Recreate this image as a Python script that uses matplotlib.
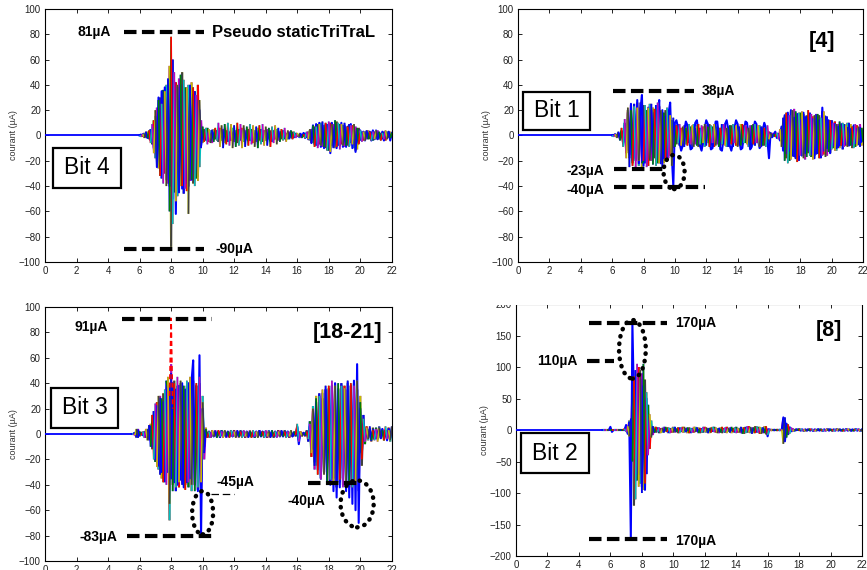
import numpy as np
import matplotlib
matplotlib.use('Agg')
import matplotlib.pyplot as plt
from matplotlib.collections import LineCollection
from matplotlib.patches import Ellipse, Rectangle

plt.rcParams['font.family'] = ['Liberation Sans', 'DejaVu Sans']

# MATLAB (old) colour order used for the overlaid traces
matlab_colors = ['#0000ff', '#008000', '#ff0000', '#00bfbf', '#bf00bf', '#bfbf00', '#404040']

# ---------------- data (current in uA, sampled every 0.1 unit from t_start to 22) ----------------
# Bit 4 - Pseudo static TriTraL
p1_start = 6.0
p1_a = [0, 1, -1, 2, -2, 3, -3, 5, -7, 12,
        -18, 22, -26, 30, -34, 36, -30, 40, -38, 55,
        -88, 60, -45, 42, -48, 45, -40, 50, -46, 38,
        -44, 40, -36, 42, -38, 35, -34, 40, -25, 12,
        -6, 5, -4, 6, -5, 4, -6, 5, -3, 4,
        -5, 6, -4, 5, -6, 4, -5, 3, -4, 6,
        -5, 4, -6, 5, -4, 6, -5, 4, -3, 5,
        -4, 5, -6, 4, -5, 6, -4, 5, -5, 4,
        -4, 5, -3, 4, -5, 4, -3, 5, -4, 3,
        -3, 4, -3, 2, -3, 3, -2, 3, -2, 2,
        -1, 1, -2, 1, -1, 2, -2, 3, -4, 5,
        -6, 7, -8, 9, -7, 10, -9, 8, -10, 9,
        -12, 10, -8, 9, -10, 11, -8, 9, -7, 8,
        -9, 7, -8, 9, -6, 8, -10, 7, -11, 6,
        -4, 3, -4, 3, -3, 4, -3, 3, -4, 3,
        -3, 4, -3, 2, -3, 3, -4, 3, -2, 3, -2]
p1_b = [0, -1, 1, -2, 3, -2, 4, -6, 9, -14,
        20, -24, 28, -32, 25, -38, 35, -40, 45, -60,
        78, -70, 50, -52, 40, -44, 48, -40, 44, -42,
        38, -62, 40, -35, 38, -40, 32, -36, 28, -10,
        7, -5, 6, -7, 5, -6, 4, -5, 6, -4,
        10, -9, 8, -10, 9, -7, 10, -8, 9, -10,
        8, -9, 10, -8, 9, -10, 8, -9, 7, -8,
        9, -7, 8, -9, 7, -10, 8, -7, 9, -8,
        7, -8, 6, -9, 7, -6, 8, -7, 6, -5,
        5, -4, 6, -5, 4, -3, 4, -3, 3, -2,
        2, -1, 2, -2, 1, -2, 3, -3, 5, -6,
        8, -9, 7, -10, 9, -8, 11, -9, 10, -12,
        11, -13, 9, -10, 12, -9, 10, -11, 9, -8,
        10, -8, 7, -9, 8, -7, 9, -12, 6, -7,
        4, -5, 3, -4, 4, -3, 3, -4, 3, -3,
        4, -3, 3, -4, 2, -3, 4, -3, 3, -2, 2]
p1_c = [0, 0, 1, -1, 1, -2, 2, -4, 6, -10,
        15, -25, 30, -28, 35, -30, 38, -35, 30, -40,
        45, -50, 42, -62, 38, -45, 40, -42, 35, -38,
        36, -40, 30, -35, 32, -30, 28, -32, 20, -8,
        4, -3, 4, -4, 3, -5, 4, -3, 4, -3,
        3, -4, 4, -3, 5, -4, 3, -4, 4, -3,
        4, -3, 3, -4, 4, -3, 5, -4, 3, -4,
        3, -4, 4, -3, 3, -4, 4, -3, 3, -4,
        4, -3, 3, -4, 3, -3, 4, -3, 3, -2,
        3, -2, 2, -3, 2, -2, 3, -2, 2, -1,
        1, -1, 1, -1, 2, -2, 2, -3, 4, -6,
        8, -7, 9, -8, 10, -9, 8, -10, 9, -11,
        8, -14, 10, -9, 8, -10, 9, -8, 10, -9,
        8, -9, 7, -8, 9, -10, 6, -13, 5, -6,
        4, -3, 3, -4, 3, -2, 3, -4, 4, -3,
        4, -3, 2, -3, 3, -4, 3, -2, 3, -4, 2]

# Bit 1 - [4]
p2_start = 6.0
p2_a = [0, 0, 1, -1, 2, -3, 4, -6, 10, -14,
        20, -18, 24, -22, 25, -20, 26, -24, 22, -25,
        24, -22, 20, -24, 25, -20, 22, -18, 24, -22,
        23, -20, 18, -22, 20, -18, 15, -16, 12, -10,
        8, -7, 9, -8, 6, -9, 8, -7, 9, -6,
        7, -8, 9, -7, 8, -9, 6, -8, 7, -9,
        8, -6, 9, -8, 7, -9, 8, -7, 6, -8,
        9, -7, 8, -9, 7, -6, 8, -9, 7, -8,
        6, -8, 9, -7, 8, -6, 7, -9, 8, -7,
        9, -8, 7, -6, 8, -9, 7, -8, 6, -7,
        3, -2, 2, -1, 1, -1, 2, -3, 6, -10,
        15, -18, 17, -20, 19, -16, 21, -18, 15, -20,
        18, -15, 17, -19, 16, -14, 18, -17, 15, -16,
        17, -14, 16, -18, 19, -15, 14, -16, 12, -14,
        12, -10, 11, -12, 9, -10, 8, -11, 9, -8,
        10, -8, 9, -10, 7, -9, 8, -7, 9, -8, 6]
p2_b = [0, -1, 1, -2, 3, -4, 6, -9, 13, -18,
        22, -25, 20, -24, 23, -26, 22, -20, 26, -22,
        -20, 24, -25, 22, -20, 25, -23, 21, -24, 26,
        -22, 20, -25, 18, -20, 22, -18, 16, -24, 14,
        -9, 8, -6, 9, -8, 7, -9, 6, -8, 9,
        -7, 8, -9, 6, -8, 9, -7, 8, -6, 9,
        -8, 7, -9, 8, -6, 9, -8, 7, -9, 6,
        -7, 9, -8, 6, -9, 8, -7, 9, -6, 8,
        -9, 7, -8, 9, -6, 8, -7, 6, -9, 8,
        -7, 9, -6, 8, -9, 7, -8, 6, -9, 8,
        -3, 2, -2, 1, -1, 2, -3, 5, -9, 14,
        -20, 18, -22, 16, -19, 20, -17, 19, -21, 18,
        -16, 19, -18, 15, -17, 20, -16, 17, -19, 16,
        -15, 17, -18, 14, -16, 19, -17, 15, -13, 12,
        -11, 10, -12, 9, -10, 11, -8, 10, -9, 8,
        -9, 10, -8, 7, -10, 9, -8, 7, -9, 6, -5]
p2_c = [0, 0, 1, -1, 2, -2, 3, -5, 8, -12,
        18, -15, 25, -20, 22, -18, 28, -22, 20, 32,
        -24, 15, -20, 22, -18, 20, -15, 18, -20, 12,
        28, -22, 20, -18, 15, -20, 18, 26, -15, -40,
        10, 12, 6, -6, -12, -8, 4, 11, 8, -2,
        -11, -10, 0, 10, 12, 4, -8, -12, -5, 6,
        12, 9, -3, -11, -10, 1, 11, 11, 0, -11,
        -12, -3, 9, 12, 5, -8, -12, -6, 6, 12,
        9, -3, -11, -10, 2, 11, 10, -1, -11, -9,
        3, 11, 9, -3, -10, -8, 4, 10, 6, -4,
        -18, 2, -1, 1, 3, -2, 1, -4, 7, -12,
        16, -14, 18, -12, 20, -16, 14, -18, 17, -15,
        12, -16, 18, -14, 15, -12, 17, -15, 13, -18,
        16, -14, 12, -17, 22, -12, 15, -10, 12, -14,
        10, -8, 9, -10, 7, -8, 9, -6, 8, -7,
        6, -8, 5, -7, 8, -6, 5, -7, 6, -5, 4]

# Bit 3 - [18-21]
p3_start = 5.5
p3_a = [0, 0, 1, -3, 4,
        -2, 1, -1, 2, -3, 4, -5, 8, -12, 18,
        -22, 25, -28, 30, -35, 32, -38, 42, 35, -68,
        55, -40, 42, -45, 38, -42, 40, -38, 35, -40,
        38, -42, 40, -45, 42, -40, 38, -44, 40, -48,
        30, -20, 5, -3, 2, -3, 3, -2, 3, -2,
        2, -3, 3, -2, 2, -3, 2, -2, 3, -2,
        3, -2, 2, -3, 3, -2, 2, -3, 2, -2,
        3, -2, 2, -3, 2, -2, 3, -2, 2, -3,
        2, -3, 3, -2, 2, -3, 2, -2, 3, -2,
        2, -2, 3, -2, 2, -3, 2, -2, 1, -2,
        6, -5, 2, -1, 1, -2, 3, -6, 10, -18,
        22, -28, 30, -25, 32, -35, 28, -30, 35, -38,
        36, -40, 38, -35, 40, -42, 36, -38, 40, -35,
        38, -40, 35, -42, 38, -36, 40, -38, 35, -45,
        30, -25, 15, -8, 6, -5, 4, -6, 5, -4,
        5, -4, 6, -3, 4, -5, 3, -4, 5, -6, 4]
p3_b = [0, 0, -1, 4, -3,
        2, -1, 2, -3, 4, -5, 7, -10, 15, -20,
        24, -26, 30, -32, 28, -38, 35, -40, 45, -55,
        48, -45, 40, -42, 45, -38, 42, -40, 38, -44,
        42, -38, 45, -40, 38, -45, 40, -42, 45, -38,
        25, -15, 4, -3, 2, -3, 3, -2, 2, -3,
        3, -2, 2, -3, 3, -2, 2, -3, 3, -2,
        2, -3, 3, -2, 2, -3, 3, -2, 2, -3,
        2, -3, 3, -2, 2, -3, 3, -2, 2, -3,
        3, -2, 2, -3, 3, -2, 2, -3, 2, -2,
        3, -2, 2, -3, 2, -2, 3, -2, 2, -1,
        8, -6, 2, -2, 1, -1, 2, -4, 8, -15,
        20, -25, 28, -32, 30, -36, 35, -32, 38, -40,
        38, -36, 42, -40, 38, -42, 40, -36, 38, -42,
        36, -40, 42, -38, 40, -42, 38, -40, 42, -38,
        25, -20, 12, -6, 5, -4, 6, -5, 3, -5,
        4, -6, 5, -4, 3, -5, 6, -4, 3, -5, 6]
p3_c = [0, 0, 1, -2, 3,
        -1, 1, -1, 1, -2, 3, -4, 6, -10, 15,
        -20, 22, -25, 28, -30, 25, -32, 35, -30, 38,
        -35, 40, -38, 35, -40, 38, -36, 40, -42, 35,
        -38, 40, -35, 42, 58, -40, 38, -45, 62, -80,
        20, -10, 3, -2, 2, -2, 2, -2, 2, -2,
        2, -2, 2, -2, 2, -2, 2, -2, 2, -2,
        2, -2, 2, -2, 2, -2, 2, -2, 2, -2,
        2, -2, 2, -2, 2, -2, 2, -2, 2, -2,
        2, -2, 2, -2, 2, -2, 2, -2, 2, -2,
        2, -2, 2, -2, 2, -2, 2, -2, 1, -1,
        5, -8, 1, -1, 1, -1, 2, -3, 6, -12,
        18, -22, 25, -28, 30, -35, 32, -30, 35, -38,
        35, -40, 38, -45, 40, -50, 35, -42, 38, -40,
        35, -45, 40, -50, 38, -55, 42, -60, 55, -70,
        20, -15, 8, -5, 4, -3, 4, -5, 3, -4,
        3, -4, 5, -3, 4, -3, 3, -5, 4, -3, 5]
p3_spike_t = [7.9, 8.0, 8.1]
p3_spike_y = [30, 91, 20]

# Bit 2 - [8]
p4_start = 5.5
p4_a = [0, 0, 0, 0, 0,
        1, -1, 0, 0, 0, 0, 0, 0, 0, 0,
        5, -4, 15, -20, 60, -120, 95, -80, 100, -85,
        90, -95, 80, -70, 40, -30, 15, -8, 5, -4,
        4, -5, 3, -4, 5, -3, 4, -5, 3, -4,
        5, -4, 3, -5, 4, -3, 5, -4, 3, -5,
        4, -5, 3, -4, 5, -3, 4, -5, 3, -4,
        5, -4, 3, -5, 4, -3, 5, -4, 3, -5,
        4, -5, 3, -4, 5, -3, 4, -5, 3, -4,
        5, -4, 3, -5, 4, -6, 5, -4, 6, -5,
        4, -5, 6, -4, 5, -6, 4, -5, 6, -7,
        2, -1, 1, -1, 1, -1, 1, -1, 1, -1,
        18, -15, 10, -8, 5, -3, 2, -2, 1, -1,
        2, -1, 1, -2, 1, -1, 2, -1, 1, -2,
        1, -1, 2, -1, 1, -2, 1, -1, 2, -1,
        1, -2, 1, -1, 2, -1, 1, -2, 1, -1,
        2, -1, 1, -2, 1, -1, 2, -1, 1, -2, 1]
p4_b = [0, 0, 0, 0, 0,
        0, 0, 0, 0, 0, 0, 0, 0, 0, 2,
        -3, 6, -10, 18, -50, 85, -110, 105, -90, 95,
        -100, 105, -85, 60, -40, 25, -12, 6, -4, 5,
        -3, 4, -5, 3, -4, 5, -3, 4, -5, 3,
        -4, 5, -3, 4, -5, 3, -4, 5, -3, 4,
        -5, 3, -4, 5, -3, 4, -5, 3, -4, 5,
        -3, 4, -5, 3, -4, 5, -3, 4, -5, 3,
        -4, 5, -3, 4, -5, 3, -4, 5, -3, 4,
        -5, 3, -4, 5, -6, 4, -5, 6, -4, 5,
        -6, 4, -5, 6, -4, 5, -6, 4, -5, 6,
        -8, 1, -1, 1, -1, 1, -1, 1, -1, 1,
        -22, 20, -12, 9, -6, 4, -2, 1, -1, 2,
        -1, 2, -1, 1, -2, 1, -1, 2, -1, 1,
        -2, 1, -1, 2, -1, 1, -2, 1, -1, 2,
        -1, 1, -2, 1, -1, 2, -1, 1, -2, 1,
        -1, 2, -1, 1, -2, 1, -1, 2, -1, 1, -2]
p4_c = [0, 0, 0, 0, 0,
        5, -3, 0, 0, 0, 0, 0, 0, 0, 0,
        8, -6, 12, -170, 170, 40, -80, 90, -70, 80,
        -90, 70, -95, 50, -30, 15, -8, 4, -3, 2,
        -2, 2, -2, 2, -2, 2, -2, 2, -2, 2,
        -2, 2, -2, 2, -2, 2, -2, 2, -2, 2,
        -2, 2, -2, 2, -2, 2, -2, 2, -2, 2,
        -2, 2, -2, 2, -2, 2, -2, 2, -2, 2,
        -2, 2, -2, 2, -2, 2, -2, 2, -2, 2,
        -2, 2, -2, 2, -2, 2, -2, 2, -2, 2,
        -2, 2, -2, 2, -2, 2, -2, 2, -3, 3,
        -10, 1, 0, 0, 0, 0, 0, 0, 0, 0,
        20, -18, 10, -6, 4, -2, 1, -1, 1, 0,
        1, -1, 1, -1, 1, -1, 1, -1, 1, -1,
        1, -1, 1, -1, 1, -1, 1, -1, 1, -1,
        1, -1, 1, -1, 1, -1, 1, -1, 1, -1,
        1, -1, 1, -1, 1, -1, 1, -1, 1, -1, 1]

# dashed marker levels: (x_start, x_end, level)
p1_levels = [(5.0, 10.1, 82), (5.0, 10.1, -90)]
p2_levels = [(6.06, 11.2, 35), (6.1, 9.3, -26.5), (6.1, 11.9, -40.7)]
p3_levels = [(4.9, 10.6, 90.5), (5.2, 10.6, -80), (16.7, 20.0, -38.6)]
p4_levels = [(4.64, 9.6, 170), (4.64, 9.6, -173), (4.5, 6.2, 109)]

# labels: (text, x, y, ha)
p1_labels = [('81µA', 4.2, 82, 'right'), ('Pseudo staticTriTraL', 10.6, 81, 'left'),
             ('-90µA', 10.8, -90, 'left')]
p2_labels = [('38µA', 11.7, 35, 'left'), ('-23µA', 5.5, -28, 'right'),
             ('-40µA', 5.5, -43, 'right')]
p3_labels = [('91µA', 4.0, 84, 'right'), ('-83µA', 4.6, -81, 'right'),
             ('-45µA', 10.9, -38, 'left'), ('-40µA', 15.4, -53, 'left')]
p4_labels = [('170µA', 10.1, 170, 'left'), ('170µA', 10.1, -176, 'left'),
             ('110µA', 3.9, 109, 'right')]

# dotted ellipses: (x, y, width, height)
p2_rings = [(9.95, -28.9, 1.34, 27)]
p3_rings = [(10.0, -62, 1.33, 34), (19.8, -55, 2.1, 37)]
p4_rings = [(7.4, 128, 1.7, 93)]


def multicolor(ax, t, y, offset, lw=1.5, z=2):
    pts = np.column_stack([t, y])
    segs = np.stack([pts[:-1], pts[1:]], axis=1)
    cols = [matlab_colors[(i + offset) % len(matlab_colors)] for i in range(len(segs))]
    ax.add_collection(LineCollection(segs, colors=cols, linewidths=lw, zorder=z))


def panel(rect, start, traces, ylim, ystep, levels, labels, rings, bit, bit_box, ref=None):
    ax = fig.add_axes(rect)
    t = np.linspace(start, 22, len(traces[0]))
    ax.plot([0, start], [0, 0], color='#0000ff', lw=1.3, zorder=3)
    multicolor(ax, t, traces[0], 0, z=2)
    ax.plot(t, traces[2], color='#0000ff', lw=1.5, zorder=3)
    multicolor(ax, t, traces[1], 3, lw=1.2, z=4)

    for x0, x1, lev in levels:
        ax.plot([x0, x1], [lev, lev], color='black', lw=3, linestyle=(0, (3.0, 1.3)), zorder=5)
    for txt, x, y, ha in labels:
        size = 12 if txt.startswith('Pseudo') else 10
        ax.text(x, y, txt, ha=ha, va='center', fontsize=size, fontweight='bold', zorder=6)
    for x, y, w, h in rings:
        ax.add_patch(Ellipse((x, y), w, h, fill=False, edgecolor='black', lw=3.2,
                             linestyle=(0, (0.1, 1.6)), capstyle='round', zorder=6))

    # "Bit N" box
    bx0, bx1, by0, by1 = bit_box
    ax.add_patch(Rectangle((bx0, by0), bx1 - bx0, by1 - by0, transform=ax.transAxes,
                           fill=True, facecolor='white', edgecolor='black', lw=1.6, zorder=7))
    ax.text((bx0 + bx1) / 2, (by0 + by1) / 2, bit, transform=ax.transAxes,
            ha='center', va='center', fontsize=16.5, zorder=8)
    if ref is not None:
        ax.text(ref[1], ref[2], ref[0], ha='center', va='center', fontsize=15.5,
                fontweight='bold', zorder=6)

    ax.set_xlim(0, 22)
    ax.set_ylim(-ylim, ylim)
    ax.set_xticks(np.arange(0, 23, 2))
    ax.set_yticks(np.arange(-ylim, ylim + 1, ystep))
    ax.tick_params(direction='in', top=True, right=True, length=3, width=0.6,
                   labelsize=7, labelcolor='#222222', pad=3)
    for s in ax.spines.values():
        s.set_linewidth(0.8)
    ax.set_ylabel('courant (µA)', fontsize=6.5, color='#333333', labelpad=1)
    return ax


fig = plt.figure(figsize=(8.67, 5.70), dpi=100)

panel([0.0519, 0.5404, 0.400, 0.4439], p1_start, [p1_a, p1_b, p1_c], 100, 20,
      p1_levels, p1_labels, [], 'Bit 4', (0.023, 0.219, 0.292, 0.451))
panel([0.5975, 0.5404, 0.398, 0.4439], p2_start, [p2_a, p2_b, p2_c], 100, 20,
      p2_levels, p2_labels, p2_rings, 'Bit 1', (0.0145, 0.209, 0.522, 0.672),
      ref=('[4]', 19.4, 74))
ax3 = panel([0.0519, 0.0158, 0.400, 0.4456], p3_start, [p3_a, p3_b, p3_c], 100, 20,
            p3_levels, p3_labels, p3_rings, 'Bit 3', (0.0173, 0.210, 0.524, 0.681),
            ref=('[18-21]', 19.2, 80))
ax3.plot(p3_spike_t, p3_spike_y, color='#ff0000', lw=1.2, linestyle=(0, (3, 2)), zorder=4)
ax3.plot([10.5, 12.0], [-47, -47], color='black', lw=0.9, linestyle=(0, (6, 3)), zorder=5)
panel([0.5952, 0.02456, 0.399, 0.4421], p4_start, [p4_a, p4_b, p4_c], 200, 50,
      p4_levels, p4_labels, p4_rings, 'Bit 2', (0.0145, 0.211, 0.329, 0.488),
      ref=('[8]', 19.9, 158))

# the source image is cropped through the top of the last panel
fig.add_artist(Rectangle((0.5, 1 - 304.5 / 570), 0.5, 20 / 570, transform=fig.transFigure,
                         facecolor='white', edgecolor='none', zorder=20))

plt.savefig('out.png', dpi=100)
